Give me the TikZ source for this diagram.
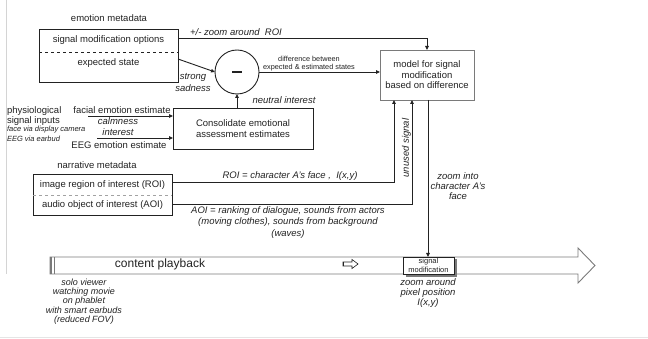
\documentclass[tikz,border=0pt]{standalone}
\usepackage{fontspec}
\setmainfont{Liberation Sans}
\usetikzlibrary{arrows.meta,calc}
\definecolor{ink}{HTML}{222222}
\definecolor{edge}{HTML}{7A7A7A}
\definecolor{frame}{HTML}{D4D4D4}
\begin{document}
\begin{tikzpicture}[x=1pt,y=-1pt,
  every node/.style={inner sep=0pt,outer sep=0pt,text=ink},
  txt/.style={font=\fontsize{9.5}{10.5}\selectfont},
  itxt/.style={font=\fontsize{9.5}{10.2}\selectfont\itshape},
  small/.style={font=\fontsize{7.3}{7.5}\selectfont},
  ismall/.style={font=\fontsize{7.5}{9}\selectfont\itshape},
  boxa/.style={draw=ink,line width=0.9pt},
  arr/.style={draw=ink,line width=0.9pt,-{Triangle[length=4pt,width=3.5pt]}},
]
\useasboundingbox (0,0) rectangle (648,339);
\coordinate (y38) at (0,38);
\coordinate (y59) at (0,59);
\coordinate (y182) at (0,182);
\coordinate (y204) at (0,204);

% frame remnants
\draw[frame,line width=0.8pt] (6,0) -- (6,274);
\draw[frame!60,line width=0.6pt] (0,337.5) -- (648,337.5);

% emotion metadata
\node[txt] (emolab) at (109,18) {emotion metadata};
\node[boxa,minimum width=139pt,minimum height=53pt] (emo) at (108.5,55.5) {};
\coordinate (y52) at (0,52);
\draw[ink,dashed,line width=0.6pt] (emo.west |- y52) -- (emo.east |- y52);
\node[txt] (smo) at (108.5,40) {signal modification options};
\node[txt] (exs) at (108.5,63) {expected state};

% difference circle
\node[circle,draw=ink,line width=0.9pt,minimum size=44pt] (circ) at (237,72) {};
\draw[ink,line width=2.8pt] ($(circ)+(-5,0)$) -- ($(circ)+(5,0)$);

% model box
\node[draw=edge,line width=0.9pt,minimum width=94pt,minimum height=50pt,align=center,txt] (model) at (427,75) {model for signal\\modification\\based on difference};

% consolidate box
\node[boxa,minimum width=140pt,minimum height=41pt,align=center,txt] (cons) at (243,128.5) {Consolidate emotional\\assessment estimates};

% narrative metadata
\node[txt] (narrlab) at (97,165) {narrative metadata};
\node[boxa,minimum width=139pt,minimum height=41pt] (narr) at (102.5,194.5) {};
\coordinate (y195) at (0,195);
\draw[edge!70,dashed,line width=0.6pt] (narr.west |- y195) -- (narr.east |- y195);
\node[txt] (roi) at (102.5,185) {image region of interest (ROI)};
\node[txt] (aoi) at (102.5,205) {audio object of interest (AOI)};

% physiological inputs
\node[txt,anchor=west] (phys) at (7,111) {physiological};
\node[txt,anchor=west] (sigin) at (7,121) {signal inputs};
\node[ismall,anchor=west] (facecam) at (7,130) {face via display camera};
\node[ismall,anchor=west] (eegbud) at (7,139) {EEG via earbud};

\coordinate (fstart) at (88,116);
\draw[arr] (fstart) -- (cons.west |- fstart);
\node[txt] (fac) at (122,110) {facial emotion estimate};
\node[itxt] (calm) at (118,121.5) {calmness};
\node[itxt] (intr) at (118,132) {interest};
\coordinate (estart) at (97,138);
\draw[arr] (estart) -- (cons.west |- estart);
\node[txt] (eeg) at (119,145.5) {EEG emotion estimate};

% connectors to circle
\draw[arr] (emo.east |- y59) -- (circ.west);
\node[itxt] (strong) at (193,77) {strong};
\node[itxt] (sad) at (193,88) {sadness};
\draw[arr] (circ.south |- cons.north) -- (circ.south);
\node[itxt] (neut) at (284,100) {neutral interest};
\draw[arr] (circ.east) -- (model.west |- circ.east);
\node[small,align=center] (diff) at (309,63.5) {difference between\\expected \& estimated states};

% +/- zoom
\draw[arr] (emo.east |- y38) -| (model.north);
\node[itxt] (pm) at (236,32) {+/- zoom around\ \ ROI};

% ROI / AOI
\draw[arr] (narr.east |- y182) -| ($(model.south west)+(14,0)$);
\node[itxt] (roil) at (290,176) {ROI = character A's face ,\ \ I(x,y)};
\draw[arr] (narr.east |- y204) -| ($(model.south west)+(32,0)$);
\node[itxt,rotate=90] (unused) at (406.5,148) {unused signal};
\node[align=center,font=\fontsize{9.5}{11.5}\selectfont\itshape] (aoil) at (288,222.5) {AOI = ranking of dialogue, sounds from actors\\(moving clothes), sounds from background\\(waves)};

% playback bar
\draw[edge,line width=0.9pt,fill=white] (50,257) -- (578,257) -- (578,248) -- (595,265.5) -- (578,283) -- (578,274) -- (50,274) -- cycle;
\draw[edge,line width=1.6pt] (51,257) -- (51,274);
\draw[edge,line width=1.6pt] (54.5,257) -- (54.5,274);
\node[font=\fontsize{12}{12}\selectfont] (play) at (160,264) {content playback};
\draw[ink,line width=0.6pt] (343,262) -- (352,262) -- (352,259.5) -- (358,264) -- (352,268.5) -- (352,266) -- (343,266) -- cycle;
\draw[ink,line width=1.4pt] (343.6,262) -- (343.6,266);

% signal modification
\fill[edge] (405.5,259.5) rectangle (456.5,276.5);
\node[draw=ink,line width=0.7pt,fill=white,minimum width=51pt,minimum height=17pt,align=center,font=\fontsize{7.5}{8.5}\selectfont] (sigmod) at (428.5,265.5) {signal\\modification};
\draw[arr] ($(model.south)+(1,0)$) -- ($(model.south |- sigmod.north)+(1,0)$);
\node[itxt,align=center] (zc) at (458,186) {zoom into\\character A's\\face};
\node[itxt,align=center] (zp) at (428,293) {zoom around\\pixel position\\I(x,y)};

% viewer note
\node[align=center,font=\fontsize{9}{9.3}\selectfont\itshape] (solo) at (84,301.5) {solo viewer\\watching movie\\on phablet\\with smart earbuds\\(reduced FOV)};
\end{tikzpicture}
\end{document}
